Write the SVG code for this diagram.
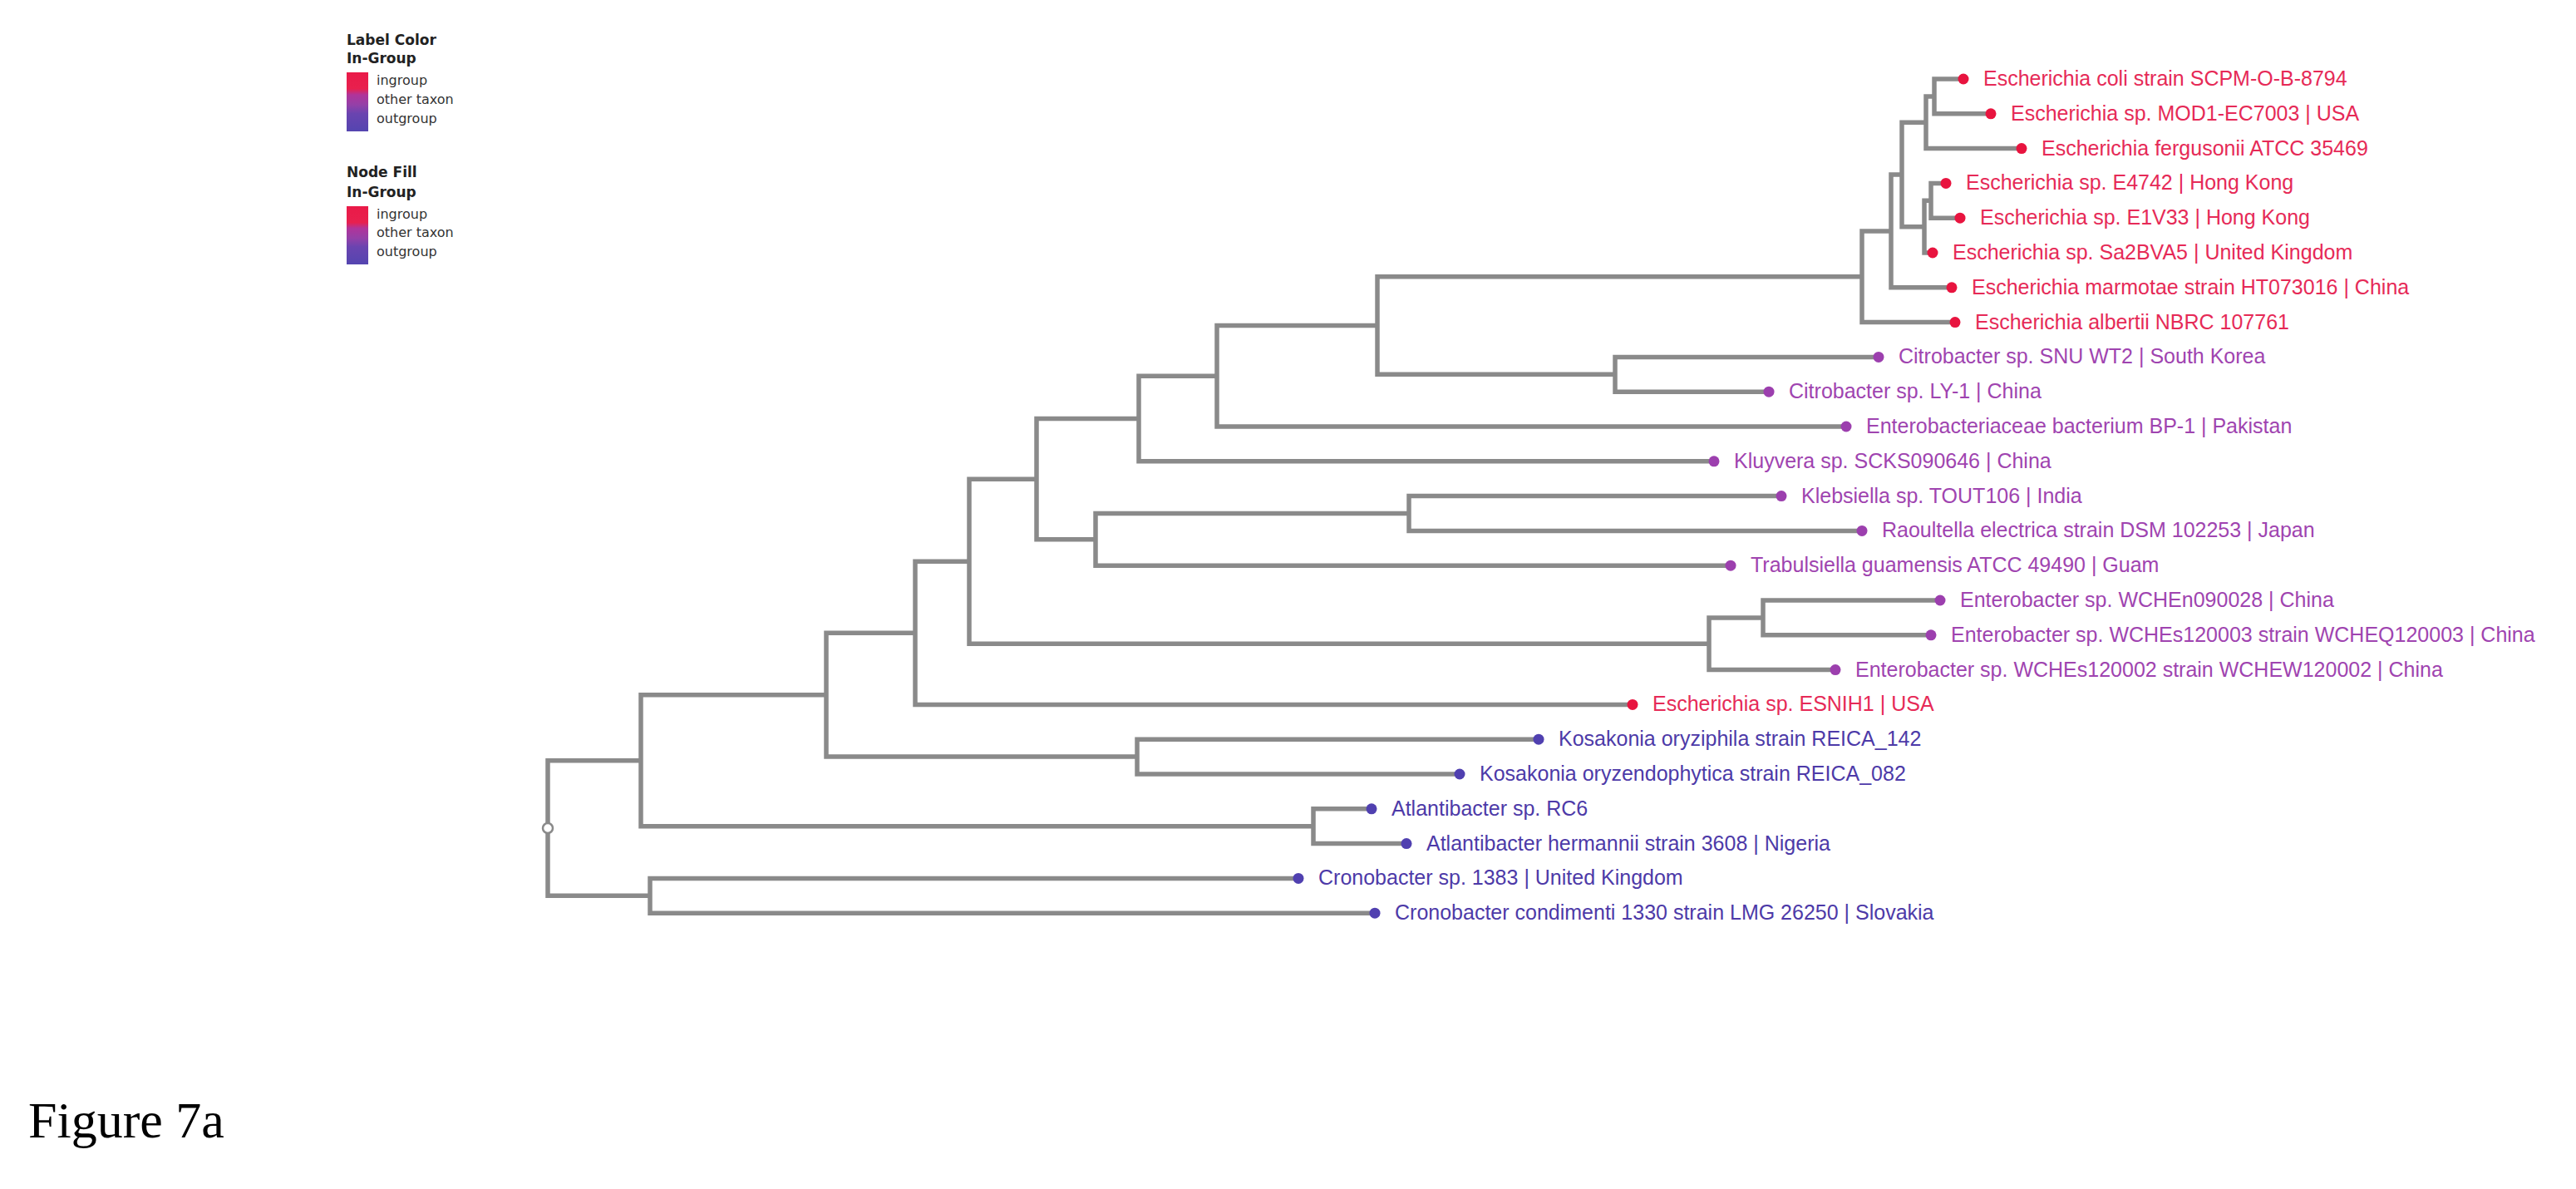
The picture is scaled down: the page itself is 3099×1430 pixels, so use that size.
<svg xmlns="http://www.w3.org/2000/svg" width="3099" height="1430" viewBox="0 0 3099 1430">
<defs>
<style>
.br{fill:none;stroke:#8a8a8a;stroke-width:5.5;stroke-linejoin:miter}
.lb{font-family:"Liberation Sans",Arial,sans-serif;font-size:25px}
.in .d{fill:#e8143f}.in text{fill:#e62a57}
.ot .d{fill:#9c3fae}.ot text{fill:#9f44b0}
.og .d{fill:#5040b0}.og text{fill:#4d3aa8}
.lh{font-family:"DejaVu Sans",sans-serif;font-size:17px;font-weight:bold;fill:#222}
.li{font-family:"DejaVu Sans",sans-serif;font-size:16px;fill:#333}
.fig{font-family:"Liberation Serif","Times New Roman",serif;font-size:62px;fill:#000}
</style>
<linearGradient id="gr" x1="0" y1="0" x2="0" y2="1">
<stop offset="0" stop-color="#ea1a48"/>
<stop offset="0.28" stop-color="#e8204e"/>
<stop offset="0.38" stop-color="#b0349a"/>
<stop offset="0.55" stop-color="#9440a8"/>
<stop offset="0.7" stop-color="#6a44b0"/>
<stop offset="1" stop-color="#5445b0"/>
</linearGradient>
</defs>
<rect width="3099" height="1430" fill="#fff"/>

<g id="legend">
<text class="lh" x="417" y="54">Label Color</text>
<text class="lh" x="417" y="76">In-Group</text>
<rect x="417" y="87" width="26" height="71" fill="url(#gr)"/>
<text class="li" x="453" y="102">ingroup</text>
<text class="li" x="453" y="125">other taxon</text>
<text class="li" x="453" y="148">outgroup</text>
<text class="lh" x="417" y="213">Node Fill</text>
<text class="lh" x="417" y="237">In-Group</text>
<rect x="417" y="248" width="26" height="70" fill="url(#gr)"/>
<text class="li" x="453" y="263">ingroup</text>
<text class="li" x="453" y="285">other taxon</text>
<text class="li" x="453" y="308">outgroup</text>
</g>

<g id="connectors">
<path class="br" d="M2362,95 H2327 V136.8 H2395"/>
<path class="br" d="M2327,115.9 H2317 V178.6 H2432"/>
<path class="br" d="M2341,220.4 H2323 V262.2 H2358"/>
<path class="br" d="M2323,241.3 H2315 V304 H2325"/>
<path class="br" d="M2317,147.25 H2288 V272.65 H2315"/>
<path class="br" d="M2288,209.95 H2275 V345.8 H2348"/>
<path class="br" d="M2275,277.9 H2240 V387.6 H2352"/>
<path class="br" d="M2260,429.4 H1943 V471.2 H2128"/>
<path class="br" d="M2240,332.75 H1657 V450.3 H1943"/>
<path class="br" d="M1657,391.5 H1464 V513 H2221"/>
<path class="br" d="M1464,452.25 H1370 V554.8 H2062"/>
<path class="br" d="M2143,596.6 H1695 V638.4 H2240"/>
<path class="br" d="M1695,617.5 H1318 V680.2 H2082"/>
<path class="br" d="M1370,503.5 H1247 V648.85 H1318"/>
<path class="br" d="M2334,722 H2121 V763.8 H2323"/>
<path class="br" d="M2121,742.9 H2056 V805.6 H2208"/>
<path class="br" d="M1247,576.2 H1166 V774.25 H2056"/>
<path class="br" d="M1166,675.2 H1101 V847.4 H1964"/>
<path class="br" d="M1851,889.2 H1368 V931 H1756"/>
<path class="br" d="M1101,761.3 H994 V910.1 H1368"/>
<path class="br" d="M1650,972.8 H1580 V1014.6 H1692"/>
<path class="br" d="M994,835.7 H771 V993.7 H1580"/>
<path class="br" d="M1562,1056.4 H782 V1098.2 H1654"/>
<path class="br" d="M771,914.7 H659 V1077.3 H782"/>
</g>

<g id="root"><circle cx="659" cy="996" r="6" fill="#fff" stroke="#8a8a8a" stroke-width="2.5"/></g>

<g id="leaf0" class="in"><circle class="d" cx="2362" cy="95" r="6.5"/><text class="lb" x="2386" y="103">Escherichia coli strain SCPM-O-B-8794</text></g>
<g id="leaf1" class="in"><circle class="d" cx="2395" cy="136.8" r="6.5"/><text class="lb" x="2419" y="144.8">Escherichia sp. MOD1-EC7003 | USA</text></g>
<g id="leaf2" class="in"><circle class="d" cx="2432" cy="178.6" r="6.5"/><text class="lb" x="2456" y="186.6">Escherichia fergusonii ATCC 35469</text></g>
<g id="leaf3" class="in"><circle class="d" cx="2341" cy="220.4" r="6.5"/><text class="lb" x="2365" y="228.4">Escherichia sp. E4742 | Hong Kong</text></g>
<g id="leaf4" class="in"><circle class="d" cx="2358" cy="262.2" r="6.5"/><text class="lb" x="2382" y="270.2">Escherichia sp. E1V33 | Hong Kong</text></g>
<g id="leaf5" class="in"><circle class="d" cx="2325" cy="304" r="6.5"/><text class="lb" x="2349" y="312">Escherichia sp. Sa2BVA5 | United Kingdom</text></g>
<g id="leaf6" class="in"><circle class="d" cx="2348" cy="345.8" r="6.5"/><text class="lb" x="2372" y="353.8">Escherichia marmotae strain HT073016 | China</text></g>
<g id="leaf7" class="in"><circle class="d" cx="2352" cy="387.6" r="6.5"/><text class="lb" x="2376" y="395.6">Escherichia albertii NBRC 107761</text></g>
<g id="leaf8" class="ot"><circle class="d" cx="2260" cy="429.4" r="6.5"/><text class="lb" x="2284" y="437.4">Citrobacter sp. SNU WT2 | South Korea</text></g>
<g id="leaf9" class="ot"><circle class="d" cx="2128" cy="471.2" r="6.5"/><text class="lb" x="2152" y="479.2">Citrobacter sp. LY-1 | China</text></g>
<g id="leaf10" class="ot"><circle class="d" cx="2221" cy="513" r="6.5"/><text class="lb" x="2245" y="521">Enterobacteriaceae bacterium BP-1 | Pakistan</text></g>
<g id="leaf11" class="ot"><circle class="d" cx="2062" cy="554.8" r="6.5"/><text class="lb" x="2086" y="562.8">Kluyvera sp. SCKS090646 | China</text></g>
<g id="leaf12" class="ot"><circle class="d" cx="2143" cy="596.6" r="6.5"/><text class="lb" x="2167" y="604.6">Klebsiella sp. TOUT106 | India</text></g>
<g id="leaf13" class="ot"><circle class="d" cx="2240" cy="638.4" r="6.5"/><text class="lb" x="2264" y="646.4">Raoultella electrica strain DSM 102253 | Japan</text></g>
<g id="leaf14" class="ot"><circle class="d" cx="2082" cy="680.2" r="6.5"/><text class="lb" x="2106" y="688.2">Trabulsiella guamensis ATCC 49490 | Guam</text></g>
<g id="leaf15" class="ot"><circle class="d" cx="2334" cy="722" r="6.5"/><text class="lb" x="2358" y="730">Enterobacter sp. WCHEn090028 | China</text></g>
<g id="leaf16" class="ot"><circle class="d" cx="2323" cy="763.8" r="6.5"/><text class="lb" x="2347" y="771.8">Enterobacter sp. WCHEs120003 strain WCHEQ120003 | China</text></g>
<g id="leaf17" class="ot"><circle class="d" cx="2208" cy="805.6" r="6.5"/><text class="lb" x="2232" y="813.6">Enterobacter sp. WCHEs120002 strain WCHEW120002 | China</text></g>
<g id="leaf18" class="in"><circle class="d" cx="1964" cy="847.4" r="6.5"/><text class="lb" x="1988" y="855.4">Escherichia sp. ESNIH1 | USA</text></g>
<g id="leaf19" class="og"><circle class="d" cx="1851" cy="889.2" r="6.5"/><text class="lb" x="1875" y="897.2">Kosakonia oryziphila strain REICA_142</text></g>
<g id="leaf20" class="og"><circle class="d" cx="1756" cy="931" r="6.5"/><text class="lb" x="1780" y="939">Kosakonia oryzendophytica strain REICA_082</text></g>
<g id="leaf21" class="og"><circle class="d" cx="1650" cy="972.8" r="6.5"/><text class="lb" x="1674" y="980.8">Atlantibacter sp. RC6</text></g>
<g id="leaf22" class="og"><circle class="d" cx="1692" cy="1014.6" r="6.5"/><text class="lb" x="1716" y="1022.6">Atlantibacter hermannii strain 3608 | Nigeria</text></g>
<g id="leaf23" class="og"><circle class="d" cx="1562" cy="1056.4" r="6.5"/><text class="lb" x="1586" y="1064.4">Cronobacter sp. 1383 | United Kingdom</text></g>
<g id="leaf24" class="og"><circle class="d" cx="1654" cy="1098.2" r="6.5"/><text class="lb" x="1678" y="1106.2">Cronobacter condimenti 1330 strain LMG 26250 | Slovakia</text></g>

<text class="fig" x="34" y="1368">Figure 7a</text>
</svg>
